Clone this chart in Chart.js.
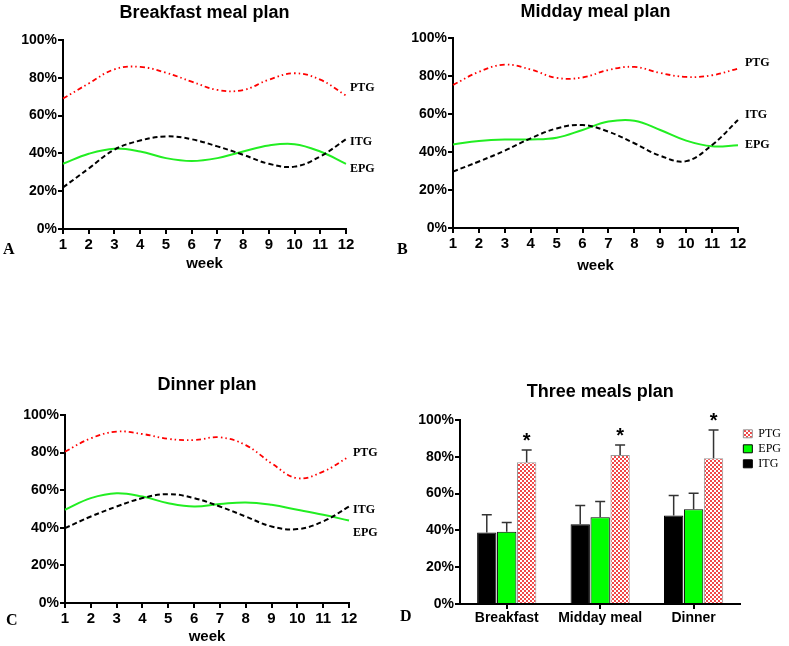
<!DOCTYPE html>
<html>
<head>
<meta charset="utf-8">
<script src="https://cdn.jsdelivr.net/npm/chart.js@4.4.1/dist/chart.umd.min.js"></script>
<style>
  body { margin: 0; background: #fff; }
  #wrap { position: relative; width: 789px; height: 646px; overflow: hidden; }
  canvas { position: absolute; }
  .letter { position: absolute; font: bold 16px "Liberation Serif", serif; color: #000; }
</style>
</head>
<body>
<div id="wrap">
  <canvas id="chartA" width="395" height="275" style="left:0;top:0"></canvas>
  <canvas id="chartB" width="389" height="275" style="left:400px;top:0"></canvas>
  <canvas id="chartC" width="395" height="316" style="left:0;top:330px"></canvas>
  <canvas id="chartD" width="389" height="316" style="left:400px;top:330px"></canvas>
  <div class="letter" style="left:3px;top:240px">A</div>
  <div class="letter" style="left:397px;top:240px">B</div>
  <div class="letter" style="left:6px;top:611px">C</div>
  <div class="letter" style="left:400px;top:607px">D</div>
</div>
<script>
// wochen auf der x-achse
const weeks = ['1', '2', '3', '4', '5', '6', '7', '8', '9', '10', '11', '12'];
const yTicks = [0, 20, 40, 60, 80, 100];

// A - Frühstück
const breakfastPTG = [69, 77, 84.5, 85.8, 82.7, 78, 73.6, 73.5, 79, 82.4, 79, 70.6];
const breakfastEPG = [34.5, 39.8, 42.5, 41, 37.5, 36, 37.5, 41, 44.2, 44.9, 41, 34.5];
const breakfastITG = [22, 32, 42, 46.8, 49, 47.5, 43.7, 39.3, 34.5, 33, 38.4, 47.5];

// B - Mittagessen
const middayPTG = [75.3, 82.2, 86, 83.4, 79, 79.2, 83.2, 84.8, 81.6, 79.5, 80.4, 83.9];
const middayEPG = [44, 45.8, 46.6, 46.6, 47.5, 51.6, 56, 56.5, 51.6, 46, 43, 43.6];
const middayITG = [29.7, 35, 40.7, 47.2, 52.4, 54.2, 50.7, 44.6, 38, 35.2, 43.7, 56.8];

// C - Abendessen
const dinnerPTG = [80.5, 87.6, 91.2, 89.9, 87.3, 86.7, 88.1, 84, 74.3, 66.4, 69.9, 77.9];
const dinnerEPG = [49.6, 55.8, 58.4, 56.6, 53.1, 51.3, 52.6, 53.5, 52.2, 49.6, 46.9, 43.9];
const dinnerITG = [39.8, 46, 51.3, 55.8, 57.9, 55.8, 51.3, 46, 40.7, 39.3, 43.4, 51.3];

// D - alle drei Mahlzeiten (Mittelwert + Fehlerbalken)
const meals = ['Breakfast', 'Midday meal', 'Dinner'];
const mealsITG = [38.9, 43.4, 48.1];
const mealsITGErr = [9.6, 10.1, 10.9];
const mealsEPG = [39.2, 47.2, 51.5];
const mealsEPGErr = [5.1, 8.5, 8.7];
const mealsPTG = [77, 81, 79.2];
const mealsPTGErr = [6.7, 5.4, 15.4];
const mealsPTGStar = [true, true, true];

const sans = '"Liberation Sans", Arial, sans-serif';
const serif = '"Liberation Serif", "Times New Roman", serif';

// beschriftet die linien rechts am ende
const endLabels = {
  id: 'endLabels',
  afterDatasetsDraw(chart, args, opts) {
    if (!opts.dy) return;
    const ctx = chart.ctx;
    ctx.save();
    ctx.font = 'bold 12px ' + serif;
    ctx.fillStyle = '#000';
    ctx.textBaseline = 'middle';
    chart.data.datasets.forEach((ds, i) => {
      const meta = chart.getDatasetMeta(i);
      const last = meta.data[meta.data.length - 1];
      ctx.fillText(ds.label, chart.chartArea.right + opts.dx, last.y + opts.dy[i]);
    });
    ctx.restore();
  }
};

// fehlerbalken nach oben + sternchen
const errorBars = {
  id: 'errorBars',
  afterDatasetsDraw(chart) {
    if (chart.config.type !== 'bar') return;
    const ctx = chart.ctx;
    const y = chart.scales.y;
    ctx.save();
    chart.data.datasets.forEach((ds, i) => {
      const meta = chart.getDatasetMeta(i);
      meta.data.forEach((bar, j) => {
        const top = y.getPixelForValue(ds.data[j] + ds.errors[j]);
        ctx.strokeStyle = '#333';
        ctx.lineWidth = 1.5;
        ctx.beginPath();
        ctx.moveTo(bar.x, bar.y);
        ctx.lineTo(bar.x, top);
        ctx.moveTo(bar.x - 5, top);
        ctx.lineTo(bar.x + 5, top);
        ctx.stroke();
        if (ds.stars && ds.stars[j]) {
          ctx.fillStyle = '#000';
          ctx.font = 'bold 20px ' + sans;
          ctx.textAlign = 'center';
          ctx.textBaseline = 'alphabetic';
          ctx.fillText('*', bar.x, top - 3);
        }
      });
    });
    ctx.restore();
  }
};

Chart.register(endLabels, errorBars);

function yAxis(width) {
  return {
    min: 0, max: 100,
    afterFit: s => { s.width = width; },
    afterBuildTicks: s => { s.ticks = yTicks.map(v => ({ value: v })); },
    grid: { drawOnChartArea: false, color: '#000', lineWidth: 2, tickLength: 5 },
    border: { color: '#000', width: 2 },
    ticks: { color: '#000', padding: 1, font: { family: sans, size: 14, weight: 'bold' }, callback: v => v + '%' }
  };
}

function lineChart(id, title, ptg, epg, itg, box) {
  new Chart(document.getElementById(id), {
    type: 'line',
    data: {
      labels: weeks,
      datasets: [
        { label: 'PTG', data: ptg, borderColor: '#ff0000', borderWidth: 1.8, borderDash: [5, 3, 1.5, 3, 1.5, 3], pointRadius: 0, tension: 0.4 },
        { label: 'ITG', data: itg, borderColor: '#000', borderWidth: 2, borderDash: [5, 3], pointRadius: 0, tension: 0.4 },
        { label: 'EPG', data: epg, borderColor: '#22ee22', borderWidth: 2, pointRadius: 0, tension: 0.4 }
      ]
    },
    options: {
      responsive: false,
      animation: false,
      layout: { padding: { left: 0, right: box.right, top: 0, bottom: 0 } },
      plugins: {
        legend: { display: false },
        tooltip: { enabled: false },
        title: { display: true, text: title, fullSize: false, color: '#000', font: { family: sans, size: 18, weight: 'bold' }, padding: { top: box.titleTop, bottom: box.titleBottom } },
        endLabels: { dx: box.dx, dy: box.dy }
      },
      scales: {
        x: {
          afterFit: s => { s.height = box.xh; },
          grid: { drawOnChartArea: false, color: '#000', lineWidth: 2, tickLength: 5 },
          border: { color: '#000', width: 2 },
          ticks: { color: '#000', padding: 2, maxRotation: 0, autoSkip: false, font: { family: sans, size: 15, weight: 'bold' } },
          title: { display: true, text: 'week', color: '#000', font: { family: sans, size: 15, weight: 'bold' }, padding: { top: 0, bottom: box.weekBottom } }
        },
        y: yAxis(box.yw)
      }
    }
  });
}

lineChart('chartA', 'Breakfast meal plan', breakfastPTG, breakfastEPG, breakfastITG,
  { right: 49, yw: 63, xh: 46, titleTop: 2, titleBottom: 16.4, weekBottom: 2, dx: 4, dy: [-8, 3, 5] });
lineChart('chartB', 'Midday meal plan', middayPTG, middayEPG, middayITG,
  { right: 51, yw: 53, xh: 47, titleTop: 1, titleBottom: 15.4, weekBottom: 0, dx: 7, dy: [-6, -5, 0] });
lineChart('chartC', 'Dinner plan', dinnerPTG, dinnerEPG, dinnerITG,
  { right: 46, yw: 65, xh: 43, titleTop: 44, titleBottom: 19.4, weekBottom: 0, dx: 4, dy: [-4, 3, 12] });

// karomuster für PTG balken
function checker() {
  const c = document.createElement('canvas');
  c.width = 4; c.height = 4;
  const g = c.getContext('2d');
  g.fillStyle = '#ffffff';
  g.fillRect(0, 0, 4, 4);
  g.fillStyle = '#f04848';
  g.fillRect(0, 0, 2, 2);
  g.fillRect(2, 2, 2, 2);
  return g.createPattern(c, 'repeat');
}

new Chart(document.getElementById('chartD'), {
  type: 'bar',
  data: {
    labels: meals,
    datasets: [
      { label: 'ITG', data: mealsITG, errors: mealsITGErr, backgroundColor: '#000', borderColor: '#000', borderWidth: 1 },
      { label: 'EPG', data: mealsEPG, errors: mealsEPGErr, backgroundColor: '#00ff00', borderColor: '#000', borderWidth: 1 },
      { label: 'PTG', data: mealsPTG, errors: mealsPTGErr, stars: mealsPTGStar, backgroundColor: checker(), borderColor: '#999', borderWidth: 1 }
    ]
  },
  options: {
    responsive: false,
    animation: false,
    categoryPercentage: 0.64,
    barPercentage: 0.97,
    layout: { padding: { left: 0, right: -2, top: 0, bottom: 0 } },
    plugins: {
      tooltip: { enabled: false },
      title: { display: true, text: 'Three meals plan', fullSize: false, color: '#000', font: { family: sans, size: 18, weight: 'bold' }, padding: { top: 51, bottom: 17.4 } },
      legend: {
        position: 'right',
        align: 'start',
        fullSize: false,
        reverse: true,
        title: { display: true, text: ' ', padding: 0, font: { size: 4 } },
        labels: { color: '#000', boxWidth: 9, boxHeight: 8, padding: 3, font: { family: serif, size: 12 } }
      }
    },
    scales: {
      x: {
        afterFit: s => { s.height = 42; },
        grid: { drawOnChartArea: false, offset: false, color: '#000', lineWidth: 2, tickLength: 5 },
        border: { color: '#000', width: 2 },
        ticks: { color: '#000', padding: 1, font: { family: sans, size: 14, weight: 'bold' } }
      },
      y: yAxis(60)
    }
  }
});
</script>
</body>
</html>
